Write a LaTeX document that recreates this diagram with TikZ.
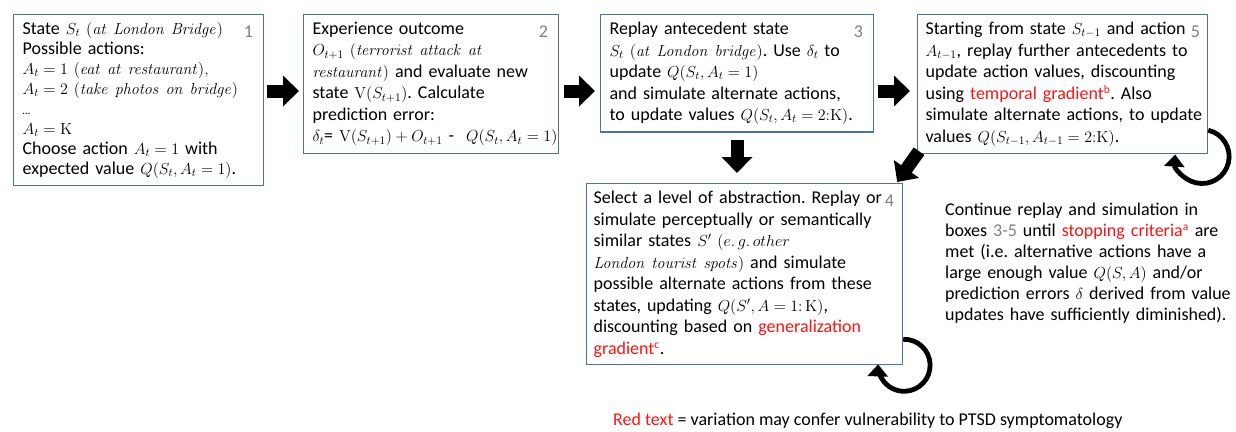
\RequirePackage{fix-cm}
\documentclass[tikz,border=0pt]{standalone}
\usepackage[no-math]{fontspec}
\setmainfont{Carlito}
\usetikzlibrary{arrows.meta,calc}
\DeclareMathSizes{18}{16}{11.5}{8.5}
\definecolor{boxblue}{RGB}{79,113,165}
\definecolor{redtext}{RGB}{250,20,20}
\definecolor{numgray}{RGB}{128,128,128}
\newcommand{\hl}[1]{\textcolor{redtext}{#1}}
\tikzset{
  stepbox/.style={draw=boxblue, line width=1.2pt, fill=white, anchor=north west,
    align=left, inner xsep=9pt, inner ysep=7.5pt, font=\fontsize{18}{21.5}\selectfont\frenchspacing},
  boxnum/.style={anchor=north east, text=numgray, inner sep=0pt, font=\fontsize{18}{21.5}\selectfont},
  plaintext/.style={inner sep=0pt, align=left, font=\fontsize{18}{21}\selectfont\frenchspacing},
  bigarrow/.style={line width=13pt, -{Triangle[width=30pt,length=16pt]}},
  looparrow/.style={line width=4.8pt, -{Triangle[width=20pt,length=12pt]}},
}

\begin{document}
\begin{tikzpicture}[x=1pt,y=-1pt]
        \useasboundingbox (0,0) rectangle (1236,431);

        % 方框 1
        \node[stepbox, text width=232pt, font=\fontsize{18}{20}\selectfont\frenchspacing] (b1) at (13,14)
          {State $S_t$ $(\mathit{at\ London\ Bridge})$\\
           Possible actions:\\
           $A_t = 1\ (\mathit{eat\ at\ restaurant}),$\\
           $A_t = 2\ (\mathit{take\ photos\ on\ bridge})$\\
           {\fontsize{11}{11}\selectfont\ldots}\\
           $A_t = \mathrm{K}$\\
           Choose action $A_t = 1$ with\\
           expected value $Q(S_t, A_t = 1)$.};
        \node[boxnum] (n1) at ($(b1.north east)+(-11,12)$) {1};

        % 方框 2
        \node[stepbox, text width=237pt] (b2) at (303,14)
          {Experience outcome\\
           $O_{t+1}\ (\mathit{terrorist\ attack\ at}$\\
           $\mathit{restaurant})$ and evaluate new\\
           state $\mathrm{V}(S_{t+1})$. Calculate\\
           prediction error:\\
           \mbox{$\delta_t$= $\mathrm{V}(S_{t+1}) + O_{t+1}$ - \ $Q(S_t, A_t = 1)$}};
        \node[boxnum] (n2) at ($(b2.north east)+(-11,12)$) {2};

        % 方框 3
        \node[stepbox, text width=255pt] (b3) at (600,14)
          {Replay antecedent state\\
           $S_t\ (\mathit{at\ London\ bridge})$. Use $\delta_t$ to\\
           update $Q(S_t, A_t = 1)$\\
           and simulate alternate actions,\\
           to update values $Q(S_t, A_t = 2{:}\mathrm{K})$.};
        \node[boxnum] (n3) at ($(b3.north east)+(-11,12)$) {3};

        % 方框 5
        \node[stepbox, text width=274pt, inner xsep=8pt] (b5) at (917,14)
          {\mbox{Starting from state $S_{t-1}$ and action}\\
           $A_{t-1}$, replay further antecedents to\\
           update action values, discounting\\
           using \hl{temporal gradient\textsuperscript{b}}. Also\\
           \mbox{simulate alternate actions, to update}\\
           values $Q(S_{t-1}, A_{t-1} = 2{:}\mathrm{K})$.};
        \node[boxnum] (n5) at ($(b5.north east)+(-8,12)$) {5};

        % 方框 4
        \node[stepbox, text width=302pt, inner xsep=7pt] (b4) at (586,183)
          {Select a level of abstraction. Replay or\\
           simulate perceptually or semantically\\
           similar states $S'\ (e.\,g.\,other$\\
           $\mathit{London\ tourist\ spots})$ and simulate\\
           possible alternate actions from these\\
           states, updating $Q(S', A = 1{:}\,\mathrm{K})$,\\
           discounting based on \hl{generalization}\\
           \hl{gradient\textsuperscript{c}}.};
        \node[boxnum] (n4) at ($(b4.north east)+(-9,12)$) {4};

        % 粗箭头
        \coordinate (row) at (0,91);
        \coordinate (col) at (737,0);
        \draw[bigarrow, shorten <=3pt, shorten >=4pt] (b1.east |- row) -- (b2.west |- row);
        \draw[bigarrow, shorten <=5pt, shorten >=5pt] (b2.east |- row) -- (b3.west |- row);
        \draw[bigarrow, shorten <=4pt, shorten >=7pt] (b3.east |- row) -- (b5.west |- row);
        \draw[bigarrow, shorten <=7pt, shorten >=10pt] (b3.south -| col) -- (b4.north -| col);
        \draw[bigarrow] ($(b5.south west)+(2,-3)$) -- ($(b4.north east)+(-6,-1)$);

        % 循环箭头
        \draw[looparrow] ($(b5.south east)+(0,-24)$) arc[start angle=-77, end angle=184, radius=27];
        \draw[looparrow] ($(b4.south east)+(0,-26)$) arc[start angle=-92, end angle=182, radius=26];

        % 说明文字
        \node[plaintext, anchor=north west, text width=292pt] (cont) at (945,203)
          {Continue replay and simulation in\\
           boxes \textcolor{numgray}{3-5} until \hl{stopping criteria\textsuperscript{a}} are\\
           met (i.e. alternative actions have a\\
           large enough value $Q(S, A)$ and/or\\
           prediction errors $\delta$ derived from value\\
           updates have sufficiently diminished).};
        \node[plaintext, anchor=base west] (key) at (613,425)
          {\hl{Red text} = variation may confer vulnerability to PTSD symptomatology};
    \end{tikzpicture}
\end{document}
